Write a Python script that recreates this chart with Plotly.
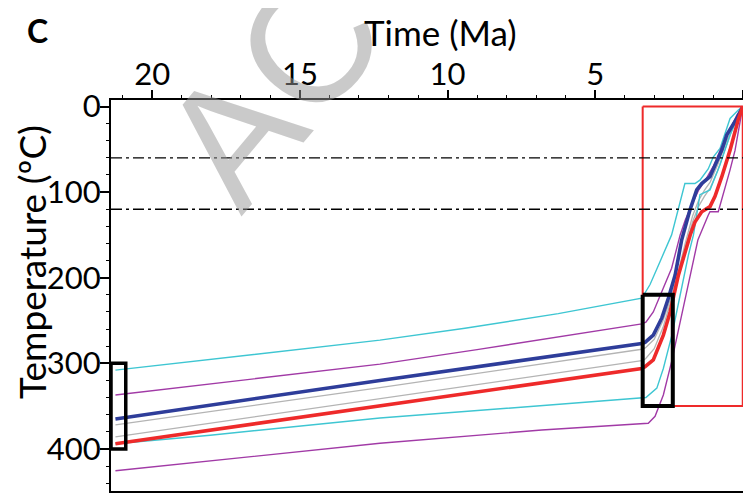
import plotly.graph_objects as go

# ---------------- data (time in Ma, temperature in degC) ----------------
cyan_top_t = [21.25, 18.72, 16.25, 12.29, 9.41, 6.25, 3.42, 3.14, 2.80, 2.57, 2.41, 1.96, 1.62, 1.45, 1.17, 1.00, 0.77, 0.43, 0.15, 0.0]
cyan_top_T = [308, 298, 288, 273, 259, 242, 224, 208, 181, 162, 150, 90, 90, 86, 73, 59, 49, 14, 4, 0]

purple_top_t = [21.25, 16.93, 12.29, 9.0, 6.0, 3.42, 3.28, 3.03, 2.69, 2.41, 2.12, 1.95, 1.73, 1.50, 1.25, 1.00, 0.75, 0.45, 0.20, 0.0]
purple_top_T = [337, 320, 301, 284, 268, 254, 252, 240, 212, 189, 150, 133, 115, 98, 85, 70, 50, 28, 10, 0]

blue_t = [21.25, 12.29, 3.42, 3.31, 3.03, 2.74, 2.52, 2.29, 2.07, 1.79, 1.56, 1.39, 1.11, 0.88, 0.71, 0.54, 0.20, 0.0]
blue_T = [365, 320, 277, 275.5, 267, 247, 224, 197, 156, 121, 97.5, 90, 82, 64.5, 51, 33, 14, 0]

gray1_t = [21.25, 12.29, 3.42, 3.30, 3.00, 2.70, 2.45, 2.20, 1.95, 1.70, 1.50, 1.30, 1.10, 0.85, 0.60, 0.30, 0.0]
gray1_T = [372, 328.5, 283.6, 282, 272, 250, 225, 195, 160, 128, 110, 98, 88, 68, 45, 20, 0]

gray2_t = [21.25, 12.29, 3.42, 3.30, 3.00, 2.70, 2.45, 2.20, 1.95, 1.70, 1.50, 1.30, 1.10, 0.85, 0.60, 0.30, 0.0]
gray2_T = [386, 341, 297, 295, 283, 258, 230, 200, 165, 135, 117, 105, 95, 75, 50, 22, 0]

red_t = [21.25, 12.29, 3.42, 3.31, 3.03, 2.69, 2.46, 2.18, 1.90, 1.78, 1.62, 1.39, 1.11, 0.94, 0.71, 0.43, 0.15, 0.0]
red_T = [394, 350, 306, 304, 296, 267, 240, 197, 162, 150, 135, 123, 117, 105, 82, 51, 15, 0]

cyan_low_t = [21.25, 18.04, 12.29, 3.42, 3.28, 2.91, 2.69, 2.40, 2.12, 1.84, 1.67, 1.45, 1.11, 0.77, 0.43, 0.0]
cyan_low_T = [394, 384, 364, 341, 340, 329, 306, 267, 220, 173.5, 150, 103, 97.5, 68, 33, 0]

purple_low_t = [21.25, 12.29, 6.81, 3.31, 3.20, 2.97, 2.69, 2.41, 2.12, 1.84, 1.52, 1.17, 1.11, 0.83, 0.71, 0.43, 0.26, 0.0]
purple_low_T = [425.5, 393.5, 378, 370, 370, 362, 337, 298, 251, 205, 156, 127, 123, 123, 109, 74, 51, 0]

# partial annealing / retention zone limits (degC)
zone_T = [60, 120]

# constraint boxes: [t_old, t_young], [T_low, T_high]
red_box_t = [3.39, 0.0]
red_box_T = [0, 350]
black_box_t = [3.39, 2.37]
black_box_T = [220, 350]
start_box_t = [21.4, 20.9]
start_box_T = [300, 400]

x_ticks = [20, 15, 10, 5, 0]
y_ticks = [0, 100, 200, 300, 400]

X_RANGE = [21.40, -0.11]
Y_RANGE = [449.2, -7.6]

FONT = "Lato"
CYAN = "#3ec6d2"
PURPLE = "#a13aa6"
BLUE = "#2e3d9a"
RED = "#ee2a2a"
GRAY = "#b4b4b4"

fig = go.Figure()


def add_line(t, T, color, width):
    fig.add_trace(go.Scatter(x=t, y=T, mode="lines",
                             line=dict(color=color, width=width),
                             hoverinfo="skip", showlegend=False))


add_line(gray1_t, gray1_T, GRAY, 1.3)
add_line(gray2_t, gray2_T, GRAY, 1.3)
add_line(cyan_top_t, cyan_top_T, CYAN, 1.4)
add_line(cyan_low_t, cyan_low_T, CYAN, 1.4)
add_line(purple_top_t, purple_top_T, PURPLE, 1.4)
add_line(purple_low_t, purple_low_T, PURPLE, 1.4)
add_line(blue_t, blue_T, BLUE, 3.6)
add_line(red_t, red_T, RED, 3.6)

# dash-dot horizontal lines
for Tz in zone_T:
    fig.add_shape(type="line", xref="paper", x0=0, x1=1, yref="y", y0=Tz, y1=Tz,
                  line=dict(color="black", width=1.4, dash="11px,4px,3px,4px"),
                  layer="above")


def box(tt, TT, color, width):
    fig.add_trace(go.Scatter(
        x=[tt[0], tt[1], tt[1], tt[0], tt[0]],
        y=[TT[0], TT[0], TT[1], TT[1], TT[0]],
        mode="lines", line=dict(color=color, width=width),
        hoverinfo="skip", showlegend=False))


box(red_box_t, red_box_T, RED, 2)
box(black_box_t, black_box_T, "black", 4)
box(start_box_t, start_box_T, "black", 3.5)

fig.update_layout(
    width=743, height=485,
    margin=dict(l=103, r=5, t=92, b=2, autoexpand=False),
    paper_bgcolor="white", plot_bgcolor="white",
    font=dict(family=FONT, size=31, color="black"),
    showlegend=False,
    xaxis=dict(
        side="top", range=X_RANGE, automargin=False,
        tickmode="array", tickvals=x_ticks, ticktext=[str(v) for v in x_ticks],
        ticks="outside", ticklen=8, tickwidth=1.5, tickcolor="black",
        ticklabelstandoff=-7,
        minor=dict(dtick=1, ticks="outside", ticklen=3, tickwidth=1.2, tickcolor="black"),
        showline=True, linecolor="black", linewidth=2, mirror=True,
        showgrid=False, zeroline=False,
        tickfont=dict(family=FONT, size=31),
    ),
    yaxis=dict(
        range=Y_RANGE, automargin=False,
        tickmode="array", tickvals=y_ticks, ticktext=[str(v) for v in y_ticks],
        ticks="outside", ticklen=9, tickwidth=1.5, tickcolor="black",
        ticklabelstandoff=-7,
        minor=dict(dtick=20, ticks="outside", ticklen=3, tickwidth=1.2, tickcolor="black"),
        showline=True, linecolor="black", linewidth=2, mirror=True,
        showgrid=False, zeroline=False,
        tickfont=dict(family=FONT, size=31),
    ),
    annotations=[
        dict(text="AC", xref="paper", yref="paper", x=0.254, y=1.03,
             xanchor="center", yanchor="middle", showarrow=False, textangle=-50,
             font=dict(family="Liberation Sans", size=170, color="rgba(150,150,150,0.5)")),
        dict(text="Time (Ma)", xref="paper", yref="paper", x=0.5195, y=1.174,
             xanchor="center", yanchor="middle", showarrow=False,
             font=dict(family=FONT, size=35, color="black")),
        dict(text="Temperature (ºC)", xref="paper", yref="paper", x=-0.1244, y=0.586,
             xanchor="center", yanchor="middle", showarrow=False, textangle=-90,
             font=dict(family=FONT, size=37, color="black")),
        dict(text="<b>C</b>", xref="paper", yref="paper", x=-0.115, y=1.179,
             xanchor="center", yanchor="middle", showarrow=False,
             font=dict(family=FONT, size=32, color="black")),
    ],
)

fig.write_html("out.html")
